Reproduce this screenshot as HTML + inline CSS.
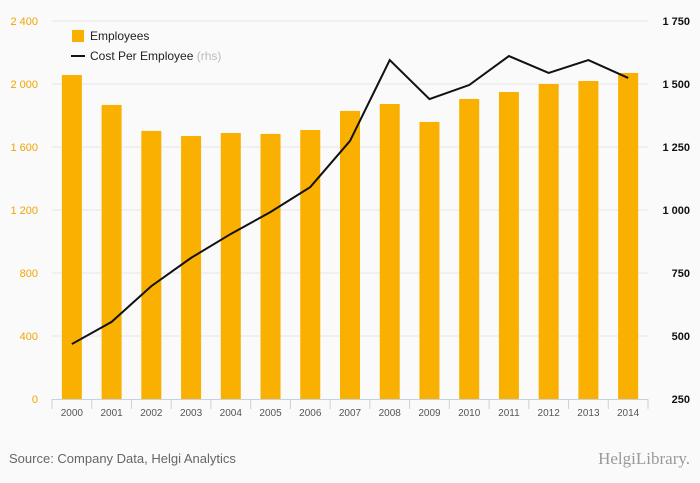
<!DOCTYPE html>
<html><head><meta charset="utf-8"><style>
body{margin:0;background:#fafafa;}
svg{display:block;font-family:"Liberation Sans",sans-serif;}
</style></head><body>
<svg id="c" width="700" height="483"></svg>
<script>
const years=["2000","2001","2002","2003","2004","2005","2006","2007","2008","2009","2010","2011","2012","2013","2014"];
const employees=[2057,1867,1702,1670,1689,1683,1708,1829,1873,1759,1905,1949,2000,2019,2070];
const costPerEmployee=[468,556,698,810,905,992,1091,1274,1595,1440,1496,1611,1544,1595,1524];
const leftTicks=[0,400,800,1200,1600,2000,2400];
const rightTicks=[250,500,750,1000,1250,1500,1750];
const NS="http://www.w3.org/2000/svg";
const svg=document.getElementById('c');
const X0=52,X1=648,Y0=399,Y1=21;
const band=(X1-X0)/years.length;
const xc=i=>X0+band*(i+0.5);
const yl=v=>Y0-(v/2400)*(Y0-Y1);
const yr=v=>Y0-((v-250)/1500)*(Y0-Y1);
function el(t,a,txt){const e=document.createElementNS(NS,t);for(const k in a)e.setAttribute(k,a[k]);if(txt!=null)e.textContent=txt;svg.appendChild(e);return e;}
leftTicks.forEach((v,i)=>{
  if(v>0){const g=el('line',{x1:X0,x2:X1,y1:yl(v),y2:yl(v),stroke:'#e6e6e6','stroke-width':1});
  
  }
  const t=el('text',{x:38,y:yl(v)+4,'text-anchor':'end','font-size':11,fill:'#f0a500'},v===0?'0':v.toLocaleString('en-US').replace(',',' '));
  
  
});
rightTicks.forEach(v=>{
  const t=el('text',{x:690,y:yr(v)+4,'text-anchor':'end','font-size':11,'font-weight':'bold',fill:'#111'},v.toLocaleString('en-US').replace(',',' '));
  
  
});
employees.forEach((v,i)=>{
  const r=el('rect',{x:xc(i)-10,y:yl(v),width:20,height:Y0-yl(v),fill:'#f9b000'});
  
  
});
const ax=el('line',{x1:X0,x2:X1,y1:Y0+0.5,y2:Y0+0.5,stroke:'#c5d3e0'});


for(let i=0;i<=years.length;i++){const tk=el('line',{x1:X0+band*i,x2:X0+band*i,y1:Y0,y2:Y0+10,stroke:'#c5d3e0'});

}
years.forEach((y,i)=>{const t=el('text',{x:xc(i),y:416,'text-anchor':'middle','font-size':10,fill:'#555'},y);

});
const pl=el('polyline',{points:costPerEmployee.map((v,i)=>xc(i)+','+yr(v)).join(' '),fill:'none',stroke:'#111','stroke-width':2});


const lg=el('rect',{x:72,y:30,width:12,height:12,fill:'#f9b000'});


const lt=el('text',{x:90,y:40,'font-size':12,fill:'#222'},'Employees');


const ll=el('line',{x1:71,x2:85,y1:56,y2:56,stroke:'#111','stroke-width':2});


const lt2=el('text',{x:90,y:60,'font-size':12,fill:'#222'},'Cost Per Employee ');


const ts=document.createElementNS(NS,'tspan');ts.setAttribute('fill','#bbb');ts.textContent='(rhs)';lt2.appendChild(ts);
const src=el('text',{x:9,y:463,'font-size':13,fill:'#666'},'Source: Company Data, Helgi Analytics');


const lg2=el('text',{x:690,y:464,'text-anchor':'end','font-size':17,fill:'#999','font-family':'Liberation Serif,serif'},'HelgiLibrary.');


</script>
</body></html>
